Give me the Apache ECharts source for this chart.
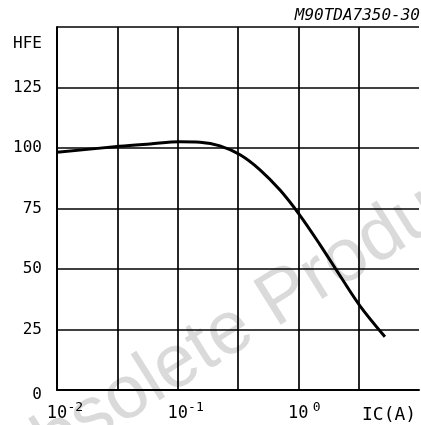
<!DOCTYPE html>
<html>
<head>
<meta charset="utf-8">
<script src="https://cdn.jsdelivr.net/npm/echarts@6/dist/echarts.min.js"></script>
<style>
  html, body { margin: 0; padding: 0; background: #fff; }
  #chart { width: 421px; height: 425px; }
</style>
</head>
<body>
<div id="chart"></div>
<script>
// Collector current IC (A) and DC current gain hFE
var icValues  = [0.01, 0.033, 0.059, 0.104, 0.153, 0.224, 0.329, 0.481, 0.705, 1.03, 1.51, 2.21, 3.24, 5.22];
var hfeValues = [98.2, 100.7, 101.7, 102.6, 102.4, 100.9, 97.2, 91.0, 82.6, 72.2, 60.1, 47.3, 34.8, 22.0];
var yTickLabels = { 0: '0', 25: '25', 50: '50', 75: '75', 100: '100', 125: '125', 150: 'HFE' };
var xTickExponents = [-2, -1, 0];
var partNumber = 'M90TDA7350-30';
var xAxisTitle = 'IC(A)';
var watermarkText = 'Obsolete Product';

var FONT = '"DejaVu Sans Mono", monospace';
var chart = echarts.init(document.getElementById('chart'), null, { renderer: 'canvas' });

var seriesData = icValues.map(function (x, i) { return [x, hfeValues[i]]; });

chart.setOption({
  animation: false,
  backgroundColor: '#ffffff',
  grid: { left: 57, right: 2, top: 27, bottom: 35, containLabel: false },
  graphic: [
    {
      type: 'text', z: -10,
      x: 238, y: 327, rotation: 32 * Math.PI / 180,
      style: {
        text: watermarkText, fill: '#dadada',
        font: '75px "Liberation Sans", Arial, sans-serif',
        align: 'center', verticalAlign: 'middle'
      }
    },
    {
      type: 'text', right: 1, top: 8,
      style: {
        text: partNumber, fill: '#000',
        font: 'italic 16px "DejaVu Sans Mono", monospace'
      }
    }
  ],
  xAxis: {
    type: 'log', logBase: 10, min: 0.01, max: 10, interval: 0.5,
    name: xAxisTitle, nameLocation: 'end', nameGap: -57,
    nameTextStyle: { fontFamily: FONT, fontSize: 18, color: '#000', verticalAlign: 'top', padding: [16, 0, 0, 0] },
    axisLine: { show: true, lineStyle: { color: '#000', width: 2 } },
    axisTick: { show: false },
    splitLine: { show: true, showMaxLine: false, lineStyle: { color: '#000', width: 1.7 } },
    axisLabel: {
      margin: 11, color: '#000', fontFamily: FONT,
      showMaxLabel: false,
      formatter: function (v) {
        var e = Math.round(Math.log(v) / Math.LN10 * 2) / 2;
        if (xTickExponents.indexOf(e) < 0) return '';
        return '{p|}{b|10}{s|' + e + '}';
      },
      rich: {
        p: { width: 16, fontSize: 17, fontFamily: FONT },
        b: { fontSize: 17, fontFamily: FONT, color: '#000' },
        s: { width: 16, align: 'left', fontSize: 13, fontFamily: FONT, color: '#000', padding: [0, 0, 12, 0] }
      }
    }
  },
  yAxis: {
    type: 'value', min: 0, max: 150, interval: 25,
    axisLine: { show: true, lineStyle: { color: '#000', width: 2 } },
    axisTick: { show: false },
    splitLine: { show: true, lineStyle: { color: '#000', width: 1.7 } },
    axisLabel: {
      margin: 15, color: '#000', fontFamily: FONT, fontSize: 16,
      formatter: function (v) {
        var t = yTickLabels[v];
        if (t === undefined) return '';
        if (v === 150) return '{h|' + t + '}';
        if (v === 0) return '{z|' + t + '}';
        return t;
      },
      rich: {
        h: { fontSize: 16, fontFamily: FONT, color: '#000', padding: [33, 0, 0, 0] },
        z: { fontSize: 16, fontFamily: FONT, color: '#000', padding: [10, 0, 0, 0] }
      }
    }
  },
  series: [{
    type: 'line', data: seriesData, smooth: 0.35, showSymbol: false,
    lineStyle: { color: '#000', width: 3 }
  }]
});
</script>
</body>
</html>
